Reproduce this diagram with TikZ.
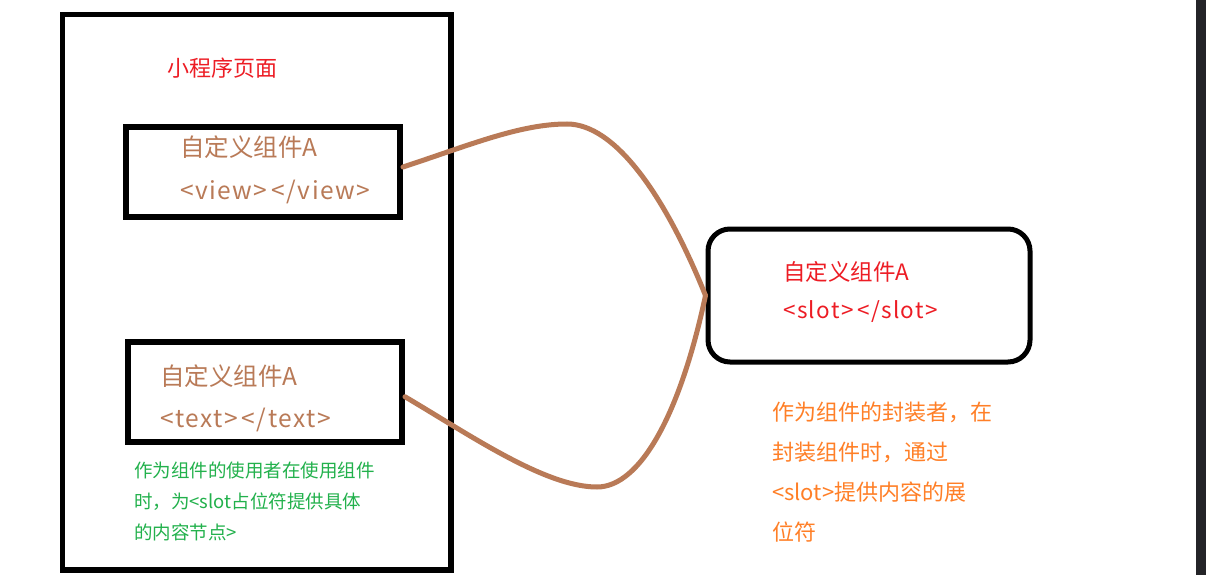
\documentclass[tikz,border=0pt]{standalone}
\usepackage{fontspec}
\newfontfamily\cjk{Noto Sans CJK SC}
\newfontfamily\cjktag[LetterSpace=6]{Noto Sans CJK SC}
\definecolor{pagered}{RGB}{237,28,36}
\definecolor{compbrown}{RGB}{185,122,87}
\definecolor{usergreen}{RGB}{34,177,76}
\definecolor{wraporange}{RGB}{255,127,39}
\definecolor{edgebar}{RGB}{36,36,40}

\begin{document}
\begin{tikzpicture}[x=1pt,y=-1pt,
  frame/.style={draw=black,line width=5.5pt,inner sep=0pt},
  comp/.style={draw=black,line width=6pt,inner sep=0pt,minimum width=274pt},
  slotbox/.style={draw=black,line width=5pt,rounded corners=22pt,inner sep=0pt},
  link/.style={draw=compbrown,line width=5pt,line cap=round},
  label/.style={anchor=west,inner sep=0pt,font=\cjk\fontsize{24.5}{28}\selectfont,text=compbrown},
  tag/.style={label,font=\cjktag\fontsize{24.5}{28}\selectfont},
  note/.style={anchor=north west,inner sep=0pt,align=left},
]
\path[fill=white,use as bounding box] (0,0) rectangle (1206,575);
\fill[edgebar] (1196,0) rectangle (1206,575);
\node[frame,minimum width=388.5pt,minimum height=555.5pt] (page) at (256.75,292.25) {};
\node[anchor=west,inner sep=0pt,font=\cjk\fontsize{22}{26}\selectfont,text=pagered] (title) at (167,68) {小程序页面};
\node[comp,minimum height=90pt] (viewcomp) at (263,171.5) {};
\node[label] (viewname) at (180,147) {自定义组件A};
\node[tag] (viewtag) at (180,192) {<view>\,</view>};
\node[comp,minimum height=100.5pt] (textcomp) at (265,391.75) {};
\node[label] (textname) at (160,376) {自定义组件A};
\node[tag] (texttag) at (160,420) {<text>\,</text>};
\node[note,font=\cjk\fontsize{18.5}{31}\selectfont,text=usergreen] (usernote) at (134,461.5)
  {作为组件的使用者在使用组件\\时，为<slot占位符提供具体\\的内容节点>};
\node[slotbox,minimum width=322pt,minimum height=133pt] (slot) at (869,295.5) {};
\node[label,font=\cjk\fontsize{22.5}{26}\selectfont,text=pagered] (slotname) at (783,272) {自定义组件A};
\node[tag,font=\cjktag\fontsize{22.5}{26}\selectfont,text=pagered] (slottag) at (783,312) {<slot>\,</slot>};
\node[note,font=\cjk\fontsize{22}{40}\selectfont,text=wraporange] (wrapnote) at (772,402)
  {作为组件的封装者，在\\封装组件时，通过\\<slot>提供内容的展\\位符};
\draw[link] ([yshift=4.5pt]viewcomp.east) .. controls (470,145) and (520,124) .. (567,124)
  .. controls (615,124) and (665,195) .. (slot.west);
\draw[link] ([yshift=-5pt]textcomp.east) .. controls (470,435) and (545,487) .. (597,487)
  .. controls (640,487) and (680,415) .. (slot.west);
\end{tikzpicture}
\end{document}
